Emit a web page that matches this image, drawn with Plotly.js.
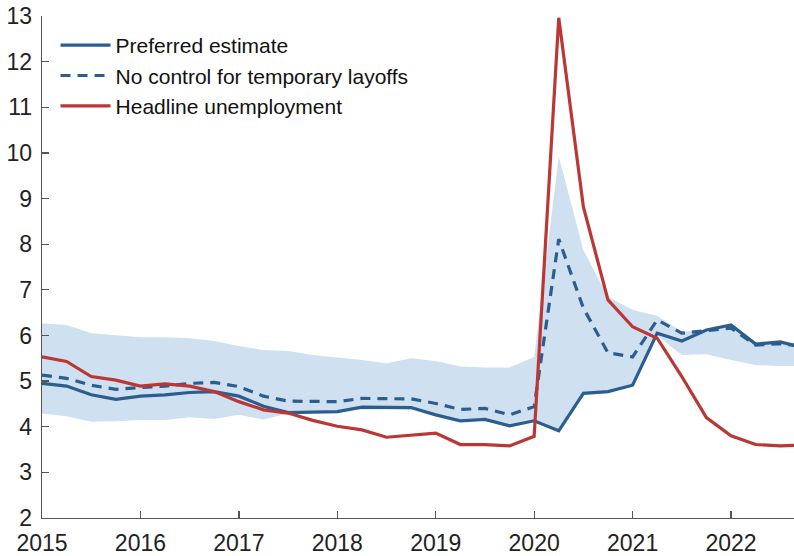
<!DOCTYPE html>
<html>
<head>
<meta charset="utf-8">
<script src="https://cdn.plot.ly/plotly-3.0.1.min.js"></script>
<style>html,body{margin:0;padding:0;background:#fff;}#chart{width:794px;height:556px;}</style>
</head>
<body>
<div id="chart"></div>
<script>
// Quarterly dates (decimal years)
var quarters = [2015.00, 2015.25, 2015.50, 2015.75, 2016.00, 2016.25, 2016.50, 2016.75,
                2017.00, 2017.25, 2017.50, 2017.75, 2018.00, 2018.25, 2018.50, 2018.75,
                2019.00, 2019.25, 2019.50, 2019.75, 2020.00, 2020.25, 2020.50, 2020.75,
                2021.00, 2021.25, 2021.50, 2021.75, 2022.00, 2022.25, 2022.50, 2022.75];

var preferred = [4.95, 4.89, 4.70, 4.60, 4.67, 4.70, 4.75, 4.77,
                 4.67, 4.45, 4.31, 4.32, 4.33, 4.43, 4.42, 4.42,
                 4.26, 4.13, 4.16, 4.02, 4.13, 3.91, 4.73, 4.77,
                 4.91, 6.05, 5.88, 6.12, 6.23, 5.81, 5.86, 5.72];

var noControl = [5.13, 5.06, 4.91, 4.82, 4.86, 4.89, 4.95, 4.97,
                 4.88, 4.67, 4.56, 4.55, 4.55, 4.62, 4.61, 4.61,
                 4.51, 4.38, 4.40, 4.26, 4.44, 8.11, 6.60, 5.62,
                 5.53, 6.34, 6.05, 6.10, 6.16, 5.79, 5.82, 5.76];

var headline = [5.53, 5.43, 5.10, 5.02, 4.89, 4.94, 4.89, 4.77,
                4.55, 4.37, 4.30, 4.14, 4.01, 3.93, 3.77, 3.82,
                3.86, 3.61, 3.61, 3.58, 3.79, 12.96, 8.82, 6.78,
                6.19, 5.94, 5.10, 4.20, 3.80, 3.61, 3.58, 3.60];

var bandUpper = [6.27, 6.23, 6.05, 6.01, 5.96, 5.96, 5.94, 5.88,
                 5.77, 5.68, 5.66, 5.57, 5.52, 5.46, 5.39, 5.50,
                 5.44, 5.32, 5.30, 5.30, 5.53, 9.92, 7.87, 6.85,
                 6.56, 6.43, 6.08, 6.12, 6.19, 5.86, 5.88, 5.80];

var bandLower = [4.29, 4.23, 4.11, 4.12, 4.15, 4.15, 4.21, 4.17,
                 4.26, 4.16, 4.29, 4.33, 4.36, 4.38, 4.38, 4.38,
                 4.24, 4.11, 4.14, 4.00, 4.11, 3.89, 4.71, 4.75,
                 4.89, 6.00, 5.57, 5.59, 5.46, 5.35, 5.33, 5.33];

var xTickVals = [2015, 2016, 2017, 2018, 2019, 2020, 2021, 2022];
var xTickText = ['2015', '2016', '2017', '2018', '2019', '2020', '2021', '2022'];
var yTickVals = [2, 3, 4, 5, 6, 7, 8, 9, 10, 11, 12, 13];

var seriesNames = ['Preferred estimate', 'No control for temporary layoffs', 'Headline unemployment'];

var blue = '#2b5d8e';
var red = '#bb3735';
var bandColor = '#cfe0f0';
var font = 'Liberation Sans, Arial, Helvetica, sans-serif';

var traces = [
  {x: quarters, y: bandLower, type: 'scatter', mode: 'lines', line: {width: 0, color: bandColor},
   showlegend: false, hoverinfo: 'skip'},
  {x: quarters, y: bandUpper, type: 'scatter', mode: 'lines', line: {width: 0, color: bandColor},
   fill: 'tonexty', fillcolor: bandColor, showlegend: false, hoverinfo: 'skip'},
  {x: quarters, y: noControl, type: 'scatter', mode: 'lines', name: seriesNames[1], legendrank: 2,
   line: {color: blue, width: 3.2, dash: '10px,7px'}},
  {x: quarters, y: preferred, type: 'scatter', mode: 'lines', name: seriesNames[0], legendrank: 1,
   line: {color: blue, width: 3.2}},
  {x: quarters, y: headline, type: 'scatter', mode: 'lines', name: seriesNames[2], legendrank: 3,
   line: {color: red, width: 3.2}}
];

var axisCommon = {
  showgrid: false, zeroline: false, showline: true, linecolor: '#555', linewidth: 1.3,
  ticks: 'inside', ticklen: 7, tickwidth: 1.3, tickcolor: '#555',
  tickfont: {family: font, size: 23, color: '#222'}
};

var layout = {
  width: 794, height: 556, autosize: false,
  margin: {l: 42, r: 0, t: 16, b: 38, pad: 0},
  paper_bgcolor: '#fff', plot_bgcolor: '#fff',
  showlegend: true,
  legend: {x: 0.018, y: 0.982, xanchor: 'left', yanchor: 'top', bgcolor: 'rgba(0,0,0,0)',
           traceorder: 'normal',
           font: {family: font, size: 21, color: '#111'}, itemwidth: 50, tracegroupgap: 0},
  xaxis: Object.assign({}, axisCommon, {range: [2015, 2022.64], tickvals: xTickVals, ticktext: xTickText,
           ticklabelstandoff: 4}),
  yaxis: Object.assign({}, axisCommon, {range: [2, 13], tickvals: yTickVals, ticklabelstandoff: 4})
};

Plotly.newPlot('chart', traces, layout, {staticPlot: true, displayModeBar: false});
</script>
</body>
</html>
